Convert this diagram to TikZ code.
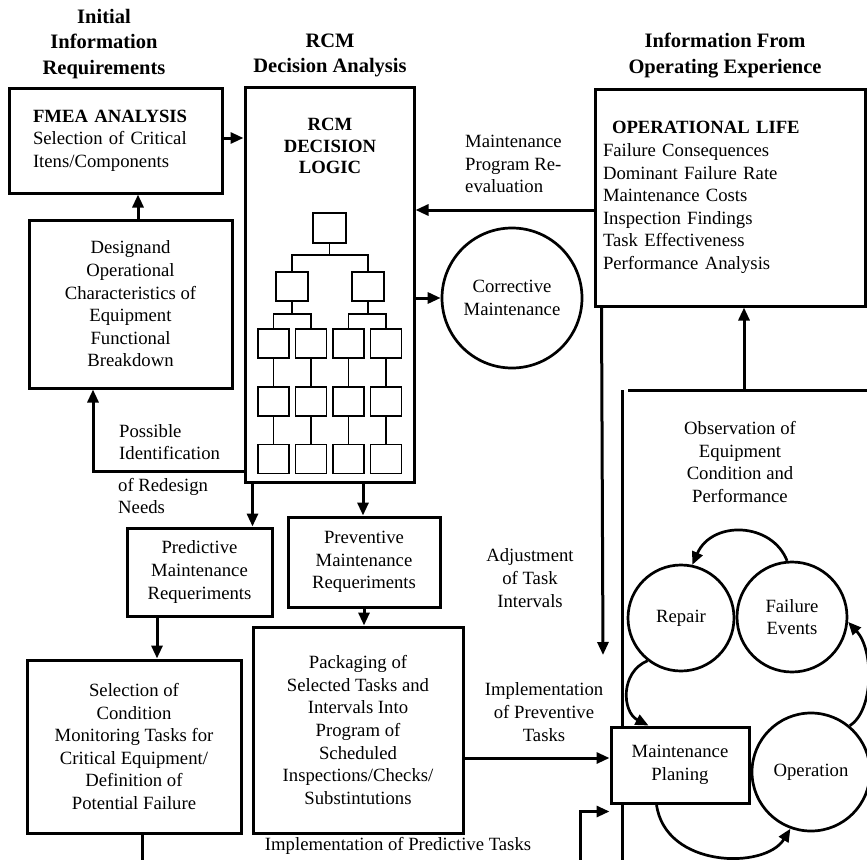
\documentclass[tikz,border=0pt]{standalone}
\usepackage{fontspec}
\setmainfont{Liberation Serif}
\usetikzlibrary{arrows.meta}
\newcommand\bodyfs{\fontsize{18.7}{22.6}\selectfont}
\newcommand\titlefs{\fontsize{20.5}{25.5}\selectfont\bfseries}
\begin{document}
\begin{tikzpicture}[x=1pt,y=-1pt,
  every node/.style={font=\bodyfs},
  box/.style={draw,line width=3pt,fill=white,align=center,inner sep=0pt},
  circ/.style={draw,circle,line width=2.7pt,fill=white,align=center,inner sep=0pt},
  tbox/.style={draw,line width=1.9pt,minimum width=32pt,minimum height=29pt,inner sep=0pt},
  tlink/.style={line width=1.1pt},
  arr/.style={line width=3pt,-{Triangle[length=13pt,width=11pt]}},
  carr/.style={line width=2.7pt,-{Triangle[length=13pt,width=11pt]}},
  rline/.style={line width=3pt},
  lbl/.style={align=left,inner sep=0pt},
  clbl/.style={align=center,inner sep=0pt},
  ttl/.style={align=center,inner sep=0pt,font=\titlefs}
]
\useasboundingbox (0,0) rectangle (867,859);

% helper coordinates
\coordinate (y210) at (0,210);
\coordinate (y758) at (0,758);
\coordinate (selend) at (142,862);
\coordinate (pbot) at (580,862);
\coordinate (adjend) at (603,655);
\coordinate (obs) at (744,390);
\coordinate (regtl) at (628,390);
\coordinate (regtr) at (869,390);
\coordinate (regl) at (622,390);
\coordinate (regb) at (622,862);

% region lines (behind the boxes)
\draw[rline] (regtl) -- (regtr);
\draw[rline] (regl) -- (regb);

% titles
\node[ttl] (tinit) at (104,44) {Initial\\Information\\Requirements};
\node[ttl] (trcm) at (330,55.5) {RCM\\Decision Analysis};
\node[ttl] (tinfo) at (725,55.5) {Information From\\Operating Experience};

% boxes
\node[box,align=left,text width=165pt,inner xsep=24pt,minimum height=105pt] (fmea) at (115.5,140.5)
  {\textbf{FMEA ANALYSIS}\\Selection of Critical\\Itens/Components};
\node[box,minimum width=203pt,minimum height=168pt] (design) at (130.5,304)
  {Designand\\Operational\\Characteristics of\\Equipment\\Functional\\Breakdown};
\node[box,minimum width=169pt,minimum height=395pt] (rcm) at (329.5,284.5) {};
\node[box,minimum width=145pt,minimum height=88pt] (pred) at (199.5,572)
  {Predictive\\Maintenance\\Requeriments};
\node[box,minimum width=152pt,minimum height=90pt] (prev) at (364,562)
  {Preventive\\Maintenance\\Requeriments};
\node[box,minimum width=214pt,minimum height=173pt] (sel) at (134,746.5)
  {Selection of\\Condition\\Monitoring Tasks for\\Critical Equipment/\\Definition of\\Potential Failure};
\node[box,minimum width=210pt,minimum height=206pt] (pack) at (358,730)
  {Packaging of\\Selected Tasks and\\Intervals Into\\Program of\\Scheduled\\Inspections/Checks/\\Substintutions};
\node[box,align=left,text width=254pt,inner xsep=8pt,minimum height=217pt] (oper) at (730,197.5)
  {\textbf{\hspace*{9pt}OPERATIONAL LIFE}\\Failure Consequences\\Dominant Failure Rate\\Maintenance Costs\\Inspection Findings\\Task Effectiveness\\Performance Analysis};
\node[box,minimum width=138pt,minimum height=76pt] (mplan) at (680,765)
  {Maintenance\\Planing};

% circles
\node[circ,minimum size=140pt] (corr) at (512,298) {Corrective\\Maintenance};
\node[circ,minimum size=106pt] (repair) at (681,618) {Repair};
\node[circ,minimum size=110pt] (failure) at (792,617) {Failure\\Events};
\node[circ,minimum size=118pt] (operation) at (811,772) {Operation};

% RCM decision logic
\node[inner sep=0pt,align=center,font=\fontsize{18.7}{21.5}\selectfont\bfseries] (rcmt) at (330,146) {RCM\\DECISION\\LOGIC};
\node[tbox,minimum width=33pt,minimum height=30pt] (t0) at (329.5,228) {};
\node[tbox] (t1) at (292,286.5) {};
\node[tbox] (t2) at (368,286.5) {};
\foreach \n/\x in {a/273.5,b/311,c/348.5,d/386}{
  \node[tbox,minimum width=31pt] (\n3) at (\x,343.5) {};
  \node[tbox,minimum width=31pt] (\n4) at (\x,401.5) {};
  \node[tbox,minimum width=31pt] (\n5) at (\x,459) {};
  \draw[tlink] (\n3) -- (\n4);
  \draw[tlink] (\n4) -- (\n5);
}
\draw[tlink] (t0.south) -- ++(0,11) coordinate (j0);
\draw[tlink] (t1.north) |- (j0) -| (t2.north);
\draw[tlink] (t1.south) -- ++(0,12) coordinate (j1);
\draw[tlink] (a3.north) |- (j1) -| (b3.north);
\draw[tlink] (t2.south) -- ++(0,12) coordinate (j2);
\draw[tlink] (c3.north) |- (j2) -| (d3.north);

% labels
\node[lbl,anchor=west] (lpos) at (119,442) {Possible\\Identification};
\node[lbl,anchor=west] (lred) at (118,496) {of Redesign\\Needs};
\node[lbl,anchor=west] (lmpr) at (465,164) {Maintenance\\Program Re-\\evaluation};
\node[clbl] (ladj) at (530,578) {Adjustment\\of Task\\Intervals};
\node[clbl] (limp) at (544,712) {Implementation\\of Preventive\\Tasks};
\node[clbl] (lpred) at (398,846) {Implementation of Predictive Tasks};
\node[clbl] (lobs) at (740,462) {Observation of\\Equipment\\Condition and\\Performance};

% connectors
\draw[arr] ([xshift=7.5pt]design.north) coordinate (dn) -- (dn |- fmea.south);
\draw[arr] ([yshift=2.5pt]fmea.east) coordinate (fe) -- (fe -| rcm.west);
\draw[arr] ([yshift=12pt]rcm.south west) -| ([xshift=-37.5pt]design.south);
\draw[arr] ([xshift=9pt]rcm.south west) coordinate (rp) -- (rp |- pred.north);
\draw[arr] ([xshift=33.5pt]rcm.south) coordinate (rv) -- (rv |- prev.north);
\draw[arr] (prev.south) -- (prev.south |- pack.north);
\draw[arr] ([xshift=-42.5pt]pred.south) coordinate (ps) -- (ps |- sel.north);
\draw[rline] ([xshift=8pt]sel.south) -- (selend);
\draw[arr] (pack.east |- y758) -- (mplan.west |- y758);
\draw[arr] (pbot) |- ([yshift=-7pt]mplan.south west);
\draw[arr] (oper.west |- y210) -- (rcm.east |- y210);
\draw[arr] (rcm.east |- corr.west) -- (corr.west);
\draw[arr] ([xshift=8pt]oper.south west) -- (adjend);
\draw[arr] (obs) -- (obs |- oper.south);

% cycle arrows
\draw[carr] (failure.95) .. controls (772,522) and (712,520) .. (repair.78);
\draw[carr] (repair.232) .. controls (620,672) and (622,712) .. ([xshift=39pt]mplan.north west);
\draw[carr] ([xshift=47pt]mplan.south west) .. controls (665,868) and (765,870) .. (operation.250);
\draw[carr] (operation.50) .. controls (874,710) and (874,650) .. (failure.355);
\end{tikzpicture}
\end{document}
